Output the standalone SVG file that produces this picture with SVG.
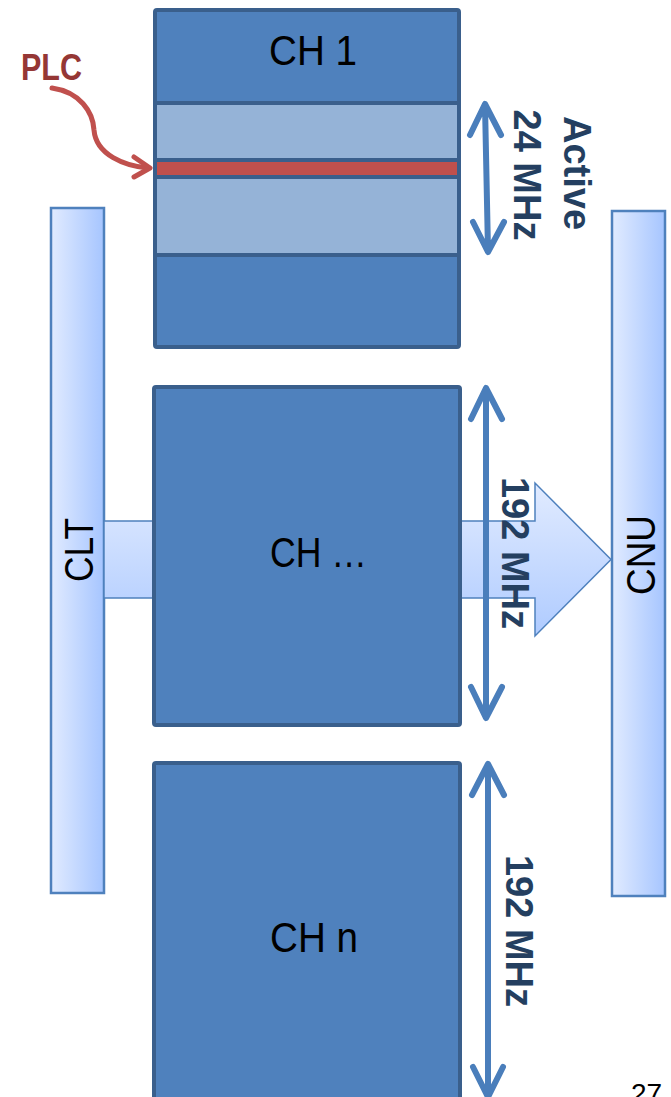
<svg xmlns="http://www.w3.org/2000/svg" width="671" height="1097" viewBox="0 0 671 1097">
<style>
.bar{stroke:#4F81BD;stroke-width:2.5}
.ch{fill:#4F81BD;stroke:#3A5F8C;stroke-width:4}
.chl{font-family:"Liberation Sans",Arial,sans-serif;font-size:42px;fill:#000}
.bl{font-family:"Liberation Sans",Arial,sans-serif;font-size:40px;fill:#000}
.mhz{font-family:"Liberation Sans",Arial,sans-serif;font-weight:bold;font-size:38px;fill:#243F60}
.dbl{fill:none;stroke:#4A7EBB;stroke-width:6;stroke-linecap:round;stroke-linejoin:round}
</style>
<defs>
<linearGradient id="gbar" x1="0" y1="0" x2="1" y2="0">
<stop offset="0" stop-color="#E1EBFF"/>
<stop offset="1" stop-color="#A6C5FF"/>
</linearGradient>
<linearGradient id="garrow" x1="0" y1="0" x2="0" y2="1">
<stop offset="0" stop-color="#E1EBFF"/>
<stop offset="1" stop-color="#AFCBFF"/>
</linearGradient>
</defs>
<rect width="671" height="1097" fill="#fff"/>
<g id="clt">
<rect class="bar" x="51" y="208" width="53" height="685" fill="url(#gbar)"/>
<text class="bl" transform="translate(93,550) rotate(-90)" text-anchor="middle" textLength="64" lengthAdjust="spacingAndGlyphs">CLT</text>
</g>
<g id="cnu">
<rect class="bar" x="612" y="211" width="53" height="685" fill="url(#gbar)"/>
<text class="bl" transform="translate(655,555) rotate(-90)" text-anchor="middle" textLength="80" lengthAdjust="spacingAndGlyphs">CNU</text>
</g>
<g id="flow-arrow">
<path d="M104,521 L535,521 L535,483 L611,559.5 L535,636 L535,598 L104,598 Z" fill="url(#garrow)" stroke="#4F81BD" stroke-width="1.5"/>
</g>
<g id="ch1">
<rect class="ch" x="155" y="10" width="304" height="337" rx="2"/>
<rect x="155" y="103" width="304" height="152" fill="#95B3D7" stroke="#3A5F8C" stroke-width="4"/>
<rect x="155" y="160" width="304" height="17" fill="#C0504D" stroke="#3A5F8C" stroke-width="4"/>
<text class="chl" x="269" y="65" textLength="88" lengthAdjust="spacingAndGlyphs">CH 1</text>
</g>
<g id="ch-mid">
<rect class="ch" x="154" y="387" width="306" height="338" rx="2"/>
<text class="chl" x="270" y="567" textLength="97" lengthAdjust="spacingAndGlyphs">CH …</text>
</g>
<g id="chn">
<rect class="ch" x="154" y="763" width="306" height="340" rx="2"/>
<text class="chl" x="270" y="952" textLength="88" lengthAdjust="spacingAndGlyphs">CH n</text>
</g>
<g id="connectors">
<path d="M52,88 C80,92 93,112 94,130 C96,155 125,166 148,168" fill="none" stroke="#C0504D" stroke-width="5" stroke-linecap="round"/>
<path d="M134,157 L150,168 L134,177" fill="none" stroke="#C0504D" stroke-width="5" stroke-linecap="round" stroke-linejoin="round"/>
<path class="dbl" d="M485,105 L488,251 M470,135 L485,104 L501,135 M473,222 L488,252 L504,222"/>
<path class="dbl" d="M486,390 L486,716 M471,419 L486,388 L502,419 M471,687 L486,718 L502,687"/>
<path class="dbl" d="M488,765 L488,1096 M472,795 L488,764 L504,795 M473,1067 L488,1097 L503,1067"/>
</g>
<g id="labels">
<text x="21" y="80" font-family="Liberation Sans,Arial,sans-serif" font-weight="bold" font-size="37" fill="#953735" textLength="61" lengthAdjust="spacingAndGlyphs">PLC</text>
<text class="mhz" transform="translate(514,175) rotate(90)" text-anchor="middle">24 MHz</text>
<text class="mhz" transform="translate(564,173) rotate(90)" text-anchor="middle">Active</text>
<text class="mhz" transform="translate(502,553) rotate(90)" text-anchor="middle">192 MHz</text>
<text class="mhz" transform="translate(506,931) rotate(90)" text-anchor="middle">192 MHz</text>
<text x="631" y="1103" font-family="Liberation Sans,Arial,sans-serif" font-size="28" fill="#000">27</text>
</g>
</svg>
